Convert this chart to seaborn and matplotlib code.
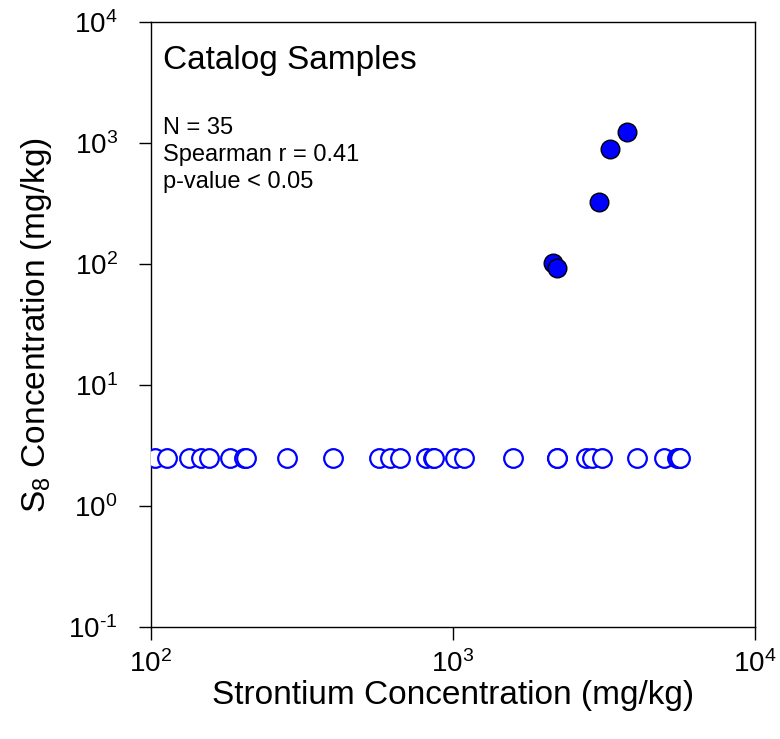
import numpy as np
import pandas as pd
import seaborn as sns
import matplotlib.pyplot as plt
from matplotlib.ticker import LogLocator, NullLocator, FuncFormatter

# Samples below detection limit (S8 plotted at the half-detection value)
nd_sr = [103, 113, 134, 146, 156, 183, 203, 206, 282, 400, 569, 618, 668, 814, 859, 862,
         1015, 1090, 1580, 2210, 2215, 2755, 2885, 3114, 4064, 4996, 5516, 5602, 5620, 5650]
nd_s8 = [2.5] * len(nd_sr)

# Samples with detected S8
det_sr = [2147, 2215, 3051, 3311, 3776]
det_s8 = [101, 93, 327, 887, 1225]

nd_df = pd.DataFrame({'sr': nd_sr, 's8': nd_s8})
det_df = pd.DataFrame({'sr': det_sr, 's8': det_s8})

sns.set_style('white')
plt.rcParams['font.family'] = ['Liberation Sans', 'DejaVu Sans']
plt.rcParams['mathtext.fontset'] = 'custom'
plt.rcParams['mathtext.rm'] = 'Liberation Sans'
plt.rcParams['axes.unicode_minus'] = False
plt.rcParams['text.color'] = 'black'
plt.rcParams['axes.labelcolor'] = 'black'
plt.rcParams['xtick.color'] = 'black'
plt.rcParams['ytick.color'] = 'black'


def pow10(v, pos):
    # plain hyphen in the exponent, like the original
    return '$\\mathregular{10^{\\text{%d}}}$' % round(np.log10(v))


fig = plt.figure(figsize=(7.8, 7.39), dpi=100)
ax = fig.add_axes([151 / 780, 1 - 627 / 739, 604 / 780, 605 / 739])

sns.scatterplot(data=nd_df, x='sr', y='s8', ax=ax, s=180, facecolor='white',
                edgecolor='#0000ff', linewidth=1.6, zorder=3)
sns.scatterplot(data=det_df, x='sr', y='s8', ax=ax, s=180, color='#0000ff',
                edgecolor='black', linewidth=1.0, zorder=4)

ax.set_xscale('log')
ax.set_yscale('log')
ax.set_xlim(100, 10000)
ax.set_ylim(0.1, 10000)
ax.xaxis.set_major_locator(LogLocator(base=10, numticks=10))
ax.yaxis.set_major_locator(LogLocator(base=10, numticks=10))
ax.xaxis.set_minor_locator(NullLocator())
ax.yaxis.set_minor_locator(NullLocator())
ax.xaxis.set_major_formatter(FuncFormatter(pow10))
ax.yaxis.set_major_formatter(FuncFormatter(pow10))

for sp in ax.spines.values():
    sp.set_visible(True)
    sp.set_color('black')
    sp.set_linewidth(1.0)

ax.tick_params(axis='both', which='major', direction='out', length=9, width=1.0,
               labelsize=20, bottom=True, left=True)
ax.tick_params(axis='x', pad=8)
ax.tick_params(axis='y', pad=15)

ax.set_xlabel('Strontium Concentration (mg/kg)', fontsize=24, labelpad=1)
ax.set_ylabel('S$_\\mathregular{8}$ Concentration (mg/kg)', fontsize=24, labelpad=10)

ax.text(0.02, 0.962, 'Catalog Samples', transform=ax.transAxes, fontsize=24,
        va='top', ha='left')
ax.text(0.02, 0.843, 'N = 35\nSpearman r = 0.41\np-value < 0.05', transform=ax.transAxes,
        fontsize=17, va='top', ha='left', linespacing=1.3)

fig.savefig('out.png', dpi=100)
